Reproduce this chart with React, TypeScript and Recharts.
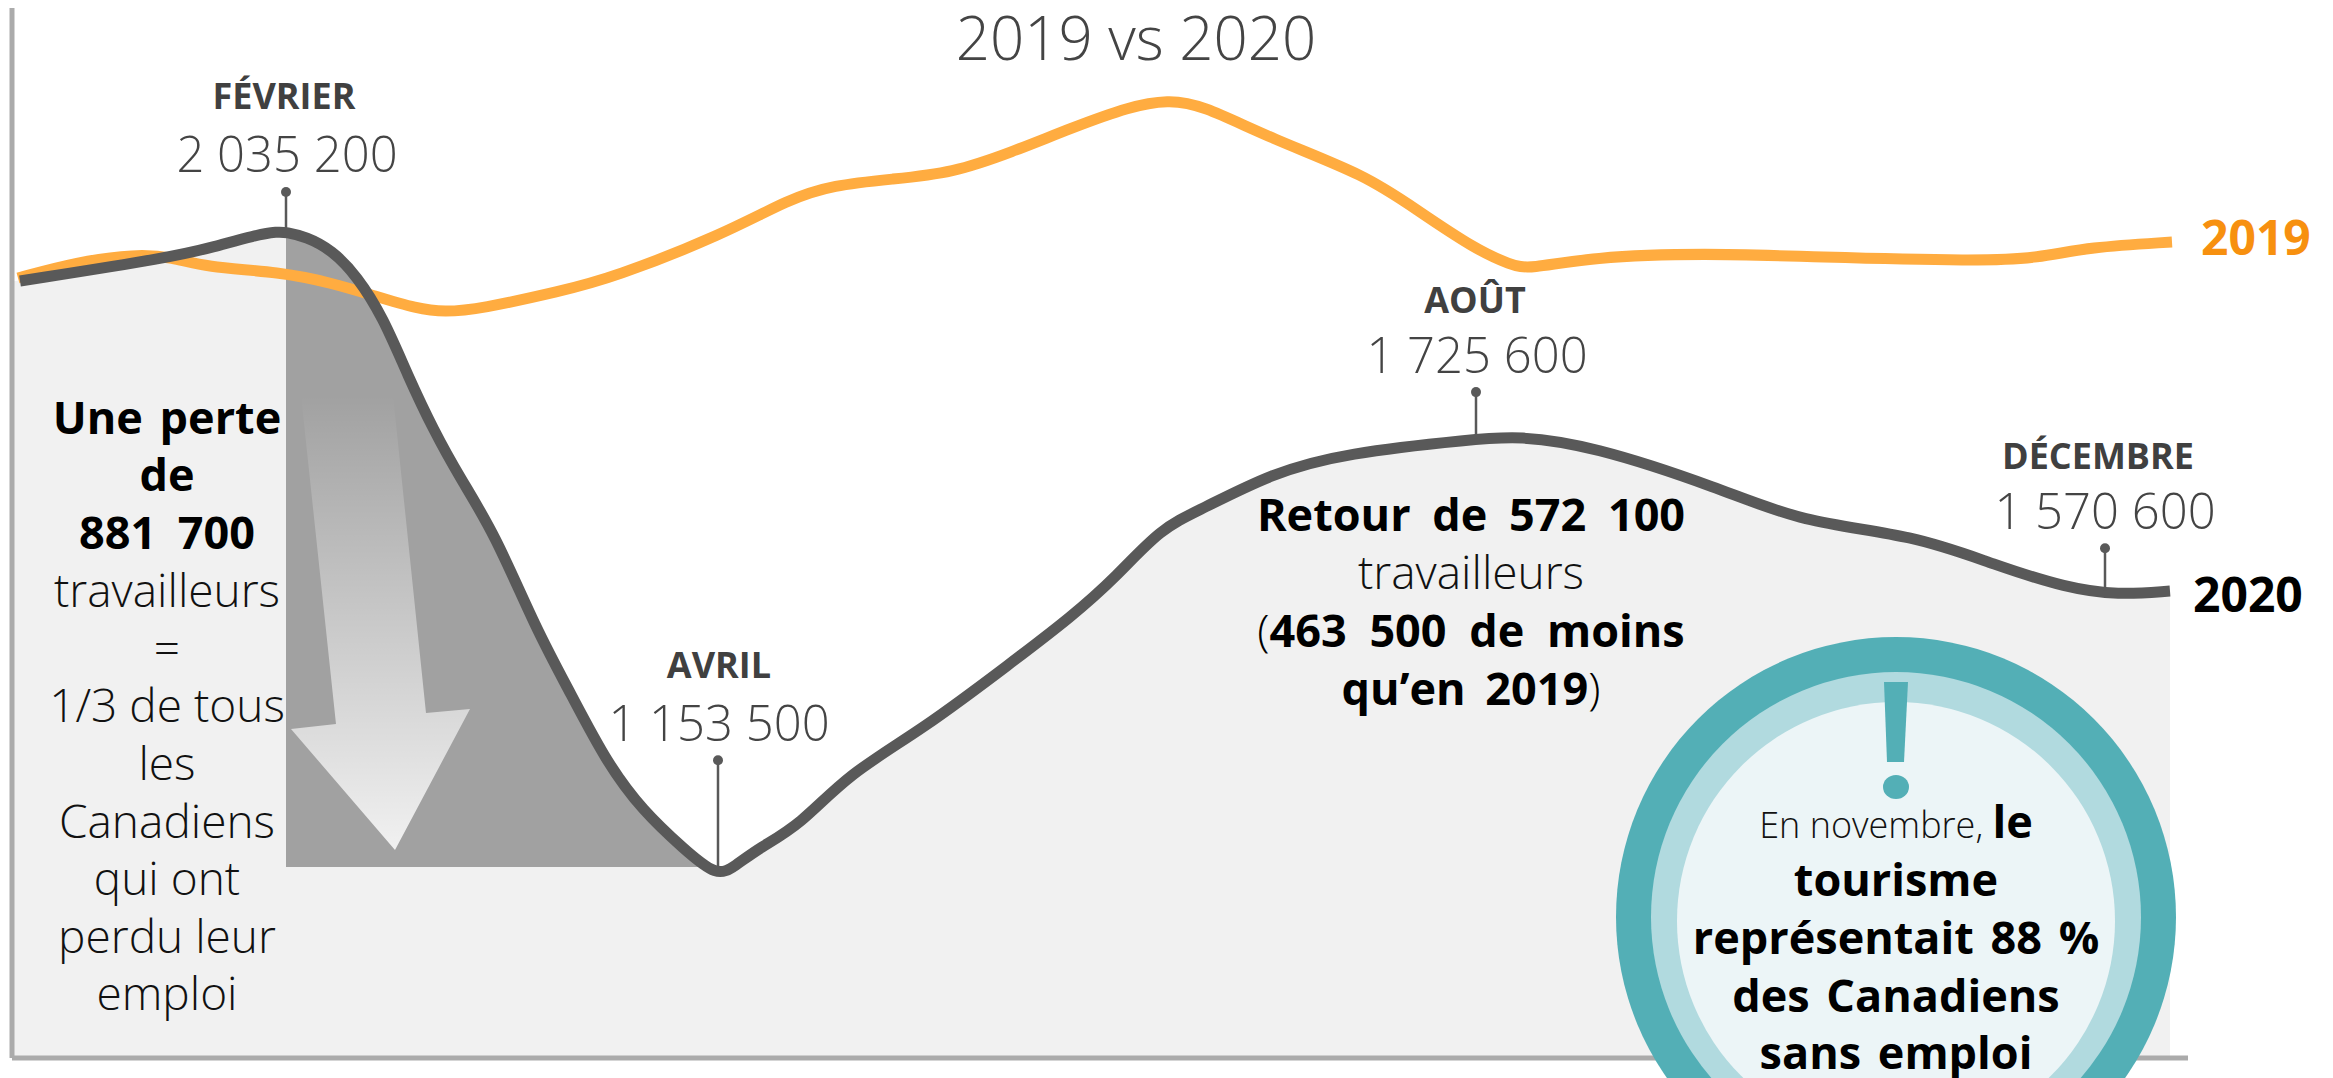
import { ComposedChart, Area, Line, XAxis, YAxis, ReferenceLine, ReferenceDot } from 'recharts';

const FONT = '"Open Sans", sans-serif';

// position on the (hand drawn) time axis, number of workers
const x2019 = [18, 77, 135, 173, 204, 281, 332, 372, 418, 444, 480, 561, 612, 724, 789, 833, 893, 952, 1012, 1071, 1131, 1168, 1200, 1272, 1366, 1417, 1475, 1511, 1529, 1590, 1706, 1814, 1980, 2038, 2089, 2172];
const workers2019 = [1965800, 1987900, 1999000, 1994800, 1981000, 1974100, 1958900, 1942300, 1923000, 1918800, 1923000, 1947800, 1965800, 2026600, 2075000, 2094300, 2102600, 2110900, 2139900, 2173100, 2203500, 2211800, 2206300, 2157900, 2108200, 2059800, 2005900, 1983800, 1978200, 1994800, 2000400, 1994800, 1989300, 1993400, 2008600, 2015600];

const x2020 = [20, 173, 214, 255, 278, 286, 306, 332, 357, 383, 408, 434, 459, 495, 536, 571, 607, 643, 684, 717, 735, 759, 800, 848, 923, 1012, 1071, 1116, 1161, 1200, 1272, 1345, 1475, 1518, 1590, 1720, 1800, 1915, 1995, 2067, 2118, 2170];
const workers2020 = [1961700, 1994800, 2009000, 2025000, 2030000, 2029000, 2023000, 2004500, 1968600, 1911900, 1830400, 1754400, 1692200, 1612000, 1480700, 1390900, 1295500, 1229200, 1176700, 1138000, 1153200, 1178100, 1209900, 1280300, 1342500, 1435100, 1497300, 1552600, 1620300, 1645200, 1696300, 1724000, 1743300, 1747400, 1735000, 1675600, 1628600, 1610600, 1569200, 1537400, 1527700, 1533200];

const lossBase = 1151800;

const months = ['FÉVRIER', 'AVRIL', 'AOÛT', 'DÉCEMBRE'];
const monthValues = ['2 035 200', '1 153 500', '1 725 600', '1 570 600'];
const stemX = [286, 718, 1476, 2105];
const stemBottom = [2029000, 1150000, 1744000, 1534000];
const stemTop = [2084700, 1299500, 1808200, 1592500];

const table2019 = x2019.map((x, i) => ({ x, value: workers2019[i] }));
const table2020 = x2020.map((x, i) => ({ x, value: workers2020[i] }));
const tableFill = [{ x: 14, value: workers2020[0] }, ...table2020];
const tableLoss = [...table2020.filter((d) => d.x >= 286 && d.x <= 684), { x: 700, value: lossBase }];

const monthLabelPos = [
  { cx: 284, y1: 109, cx2: 287, y2: 172 },
  { cx: 719, y1: 678, cx2: 719, y2: 741 },
  { cx: 1475, y1: 313, cx2: 1477, y2: 373 },
  { cx: 2098, y1: 469, cx2: 2105, y2: 529 },
];

function Light({ x, y, size = 46, fill = '#111', children }: any) {
  return <text x={x} y={y} textAnchor="middle" fontFamily={FONT} fontWeight={300} fontSize={size} fill={fill}>{children}</text>;
}

function Bold({ x, y, size = 45, fill = '#000', anchor = 'middle', spacing = 5, children }: any) {
  return <text x={x} y={y} textAnchor={anchor} fontFamily={FONT} fontWeight={700} fontSize={size} fill={fill} wordSpacing={spacing}>{children}</text>;
}

// everything drawn over the chart: arrow, texts, callout circle
function Overlay() {
  return (
    <svg width={2333} height={1078} style={{ position: 'absolute', left: 0, top: 0 }}>
      <defs>
        <linearGradient id="arrowFade" x1="0" y1="0" x2="0" y2="1">
          <stop offset="0" stopColor="#fff" stopOpacity={0} />
          <stop offset="1" stopColor="#fff" stopOpacity={0.85} />
        </linearGradient>
      </defs>
      <polygon points="301,395 393,395 426,713 470,709 395,850 291,729 336,724" fill="url(#arrowFade)" />

      <Light x={1136} y={60} size={60} fill="#444">2019 vs 2020</Light>

      {months.map((m, i) => (
        <g key={m}>
          <Bold x={monthLabelPos[i].cx} y={monthLabelPos[i].y1} size={36} fill="#404040">{m}</Bold>
          <Light x={monthLabelPos[i].cx2} y={monthLabelPos[i].y2} size={49} fill="#444">{monthValues[i]}</Light>
        </g>
      ))}

      <Bold x={2201} y={255} size={48} fill="#F7900F" anchor="start">2019</Bold>
      <Bold x={2193} y={612} size={48} anchor="start">2020</Bold>

      <Bold x={167} y={434}>Une perte</Bold>
      <Bold x={167} y={491}>de</Bold>
      <Bold x={167} y={549} spacing={10}>881 700</Bold>
      <Light x={167} y={607}>travailleurs</Light>
      <Light x={167} y={665}>=</Light>
      <Light x={167} y={722}>1/3 de tous</Light>
      <Light x={167} y={780}>les</Light>
      <Light x={167} y={838}>Canadiens</Light>
      <Light x={167} y={895}>qui ont</Light>
      <Light x={167} y={953}>perdu leur</Light>
      <Light x={167} y={1010}>emploi</Light>

      <Bold x={1471} y={531} spacing={10}>Retour de 572 100</Bold>
      <Light x={1471} y={589}>travailleurs</Light>
      <text x={1471} y={647} textAnchor="middle" fontFamily={FONT} fontSize={45} fill="#000" wordSpacing={11}>
        <tspan fontWeight={300}>(</tspan>
        <tspan fontWeight={700}>463 500 de moins</tspan>
      </text>
      <text x={1471} y={705} textAnchor="middle" fontFamily={FONT} fontSize={45} fill="#000" wordSpacing={8}>
        <tspan fontWeight={700}>qu’en 2019</tspan>
        <tspan fontWeight={300}>)</tspan>
      </text>

      <circle cx={1896} cy={917} r={280} fill="#53AFB6" />
      <circle cx={1896} cy={917} r={245} fill="#B1DADF" />
      <circle cx={1896} cy={921} r={219} fill="#ECF5F7" />
      <polygon points="1884,682 1908,682 1904,762 1887,762" fill="#53AFB6" />
      <ellipse cx={1896} cy={787} rx={13} ry={12} fill="#53AFB6" />

      <text x={1896} y={838} textAnchor="middle" fontFamily={FONT} fill="#111">
        <tspan fontWeight={300} fontSize={36}>En novembre, </tspan>
        <tspan fontWeight={700} fontSize={45} fill="#000">le</tspan>
      </text>
      <Bold x={1896} y={896}>tourisme</Bold>
      <Bold x={1896} y={954}>représentait 88 %</Bold>
      <Bold x={1896} y={1012}>des Canadiens</Bold>
      <Bold x={1896} y={1069}>sans emploi</Bold>
    </svg>
  );
}

export default function App() {
  return (
    <div style={{ position: 'absolute', left: 0, top: 0, width: 2333, height: 1078, overflow: 'hidden', background: '#fff' }}>
      <ComposedChart
        width={2333}
        height={1078}
        margin={{ top: 8, right: 145, bottom: 19, left: 11 }}
      >
        <XAxis type="number" dataKey="x" domain={[12, 2188]} tick={false} tickLine={false} height={1} axisLine={{ stroke: '#ABABAB', strokeWidth: 5 }} />
        <YAxis type="number" domain={[888000, 2339000]} tick={false} tickLine={false} width={1} axisLine={{ stroke: '#ABABAB', strokeWidth: 5 }} />

        <Area data={tableFill} dataKey="value" type="basis" stroke="none" fill="#F1F1F1" fillOpacity={1} isAnimationActive={false} />
        <Line data={table2019} dataKey="value" type="basis" stroke="#FFAC40" strokeWidth={11} dot={false} isAnimationActive={false} />
        <Area data={tableLoss} dataKey="value" type="basis" baseValue={lossBase} stroke="none" fill="#7A7A7A" fillOpacity={0.68} isAnimationActive={false} />
        <Line data={table2020} dataKey="value" type="basis" stroke="#595959" strokeWidth={11} dot={false} isAnimationActive={false} />

        {stemX.map((x, i) => (
          <ReferenceLine key={x} segment={[{ x, y: stemBottom[i] }, { x, y: stemTop[i] }]} stroke="#595959" strokeWidth={2.5} />
        ))}
        {stemX.map((x, i) => (
          <ReferenceDot key={x} x={x} y={stemTop[i]} r={5} fill="#595959" stroke="none" />
        ))}
      </ComposedChart>
      <Overlay />
    </div>
  );
}
